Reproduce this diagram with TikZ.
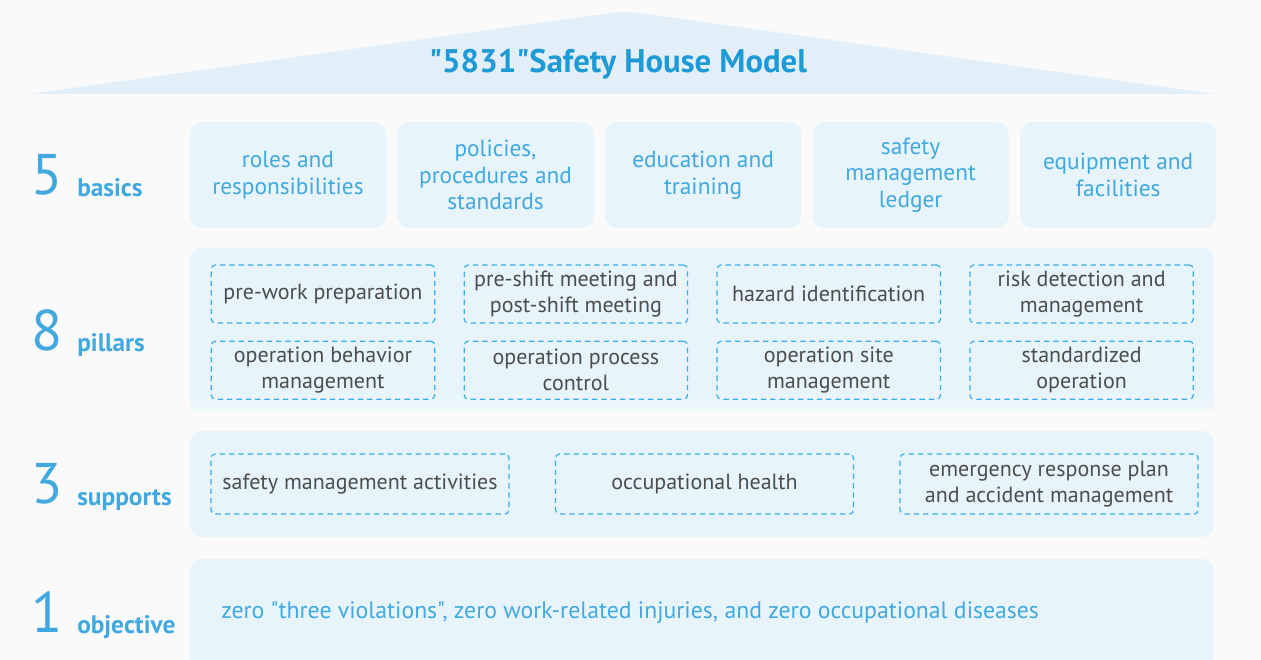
\documentclass[tikz,border=0pt]{standalone}
\usepackage{fontspec}
\setmainfont{PT Sans}[Ligatures=TeXOff]
\usetikzlibrary{positioning}
\definecolor{pagebg}{HTML}{FAFAFA}
\definecolor{roofblue}{HTML}{E2EFF8}
\definecolor{panelblue}{HTML}{E7F4FB}
\definecolor{titleblue}{HTML}{1E9AD6}
\definecolor{lightblue}{HTML}{41A9E0}
\definecolor{dashblue}{HTML}{3AAEE6}
\definecolor{darktext}{HTML}{4D4D4D}
\tikzset{
  basicbox/.style={rectangle,rounded corners=9pt,fill=panelblue,align=center,minimum width=147pt,minimum height=79.5pt,inner sep=2pt,text=lightblue,font=\fontsize{17.5}{20}\selectfont},
  pillarbox/.style={rectangle,rounded corners=3pt,draw=dashblue,line width=0.9pt,dash pattern=on 4pt off 3pt,align=center,minimum width=167.5pt,minimum height=43.5pt,inner sep=2pt,text=darktext,font=\fontsize{16.5}{19.5}\selectfont},
  supportbox/.style={pillarbox,minimum width=223.5pt,minimum height=45pt},
  levelnum/.style={anchor=base west,inner sep=0pt,text=lightblue,font=\fontsize{43}{43}\selectfont},
  levelname/.style={anchor=base west,inner sep=0pt,text=lightblue,font=\fontsize{19}{19}\selectfont\bfseries},
  panel/.style={fill=panelblue}
}

\begin{document}
\begin{tikzpicture}[x=0.75pt,y=-0.75pt,node distance=8.25pt]
    \useasboundingbox (0,0) rectangle (1261,660);
    \fill[pagebg] (0,0) rectangle (1261,660);

    % roof
    \fill[roofblue] (30,94) [rounded corners=10pt] -- (625,11) [sharp corners] -- (1215,94) -- cycle;
    \node[text=titleblue,font=\fontsize{24.5}{24.5}\selectfont\bfseries] (title) at (618,64) {"5831"Safety House Model};

    % panels
    \fill[panel] (190,410) [rounded corners=9pt] -- (190,248) -- (1214,248) [sharp corners] -- (1214,410) -- cycle;
    \shade[top color=panelblue,bottom color=panelblue!45!pagebg] (190,392) rectangle (1214,410);
    \fill[panel,rounded corners=9pt] (190,431) rectangle (1214,537);
    \fill[panel] (190,660) [rounded corners=9pt] -- (190,559) -- (1214,559) [sharp corners] -- (1214,660) -- cycle;

    % 5 basics
    \node[basicbox] (roles) at (288,175) {roles and\\responsibilities};
    \node[basicbox,right=of roles] (policies) {policies,\\procedures and\\standards};
    \node[basicbox,right=of policies] (training) {education and\\training};
    \node[basicbox,right=of training] (ledger) {safety\\management\\ledger};
    \node[basicbox,right=of ledger] (equipment) {equipment and\\facilities};

    % 8 pillars
    \node[pillarbox] (prework) at (323,294) {pre-work preparation};
    \node[pillarbox,right=21.25pt of prework] (meeting) {pre-shift meeting and\\post-shift meeting};
    \node[pillarbox,right=21.25pt of meeting] (hazard) {hazard identification};
    \node[pillarbox,right=21.25pt of hazard] (risk) {risk detection and\\management};
    \node[pillarbox,below=12.75pt of prework] (behavior) {operation behavior\\management};
    \node[pillarbox,below=12.75pt of meeting] (process) {operation process\\control};
    \node[pillarbox,below=12.75pt of hazard] (site) {operation site\\management};
    \node[pillarbox,below=12.75pt of risk] (standard) {standardized\\operation};

    % 3 supports
    \node[supportbox] (activities) at (360,484) {safety management activities};
    \node[supportbox,right=34pt of activities] (health) {occupational health};
    \node[supportbox,right=34pt of health] (emergency) {emergency response plan\\and accident management};

    % 1 objective
    \node[anchor=west,inner sep=0pt,text=lightblue,font=\fontsize{17.8}{20}\selectfont] (zero) at (221,613) {zero "three violations", zero work-related injuries, and zero occupational diseases};

    % left labels
    \node[levelnum] (n5) at (31,195) {5};
    \node[levelname] (basics) at (77,196) {basics};
    \node[levelnum] (n8) at (31,350) {8};
    \node[levelname] (pillars) at (77,351) {pillars};
    \node[levelnum] (n3) at (31,503) {3};
    \node[levelname] (supports) at (77,505) {supports};
    \node[levelnum] (n1) at (31,632) {1};
    \node[levelname] (objective) at (77,633) {objective};
\end{tikzpicture}
\end{document}
